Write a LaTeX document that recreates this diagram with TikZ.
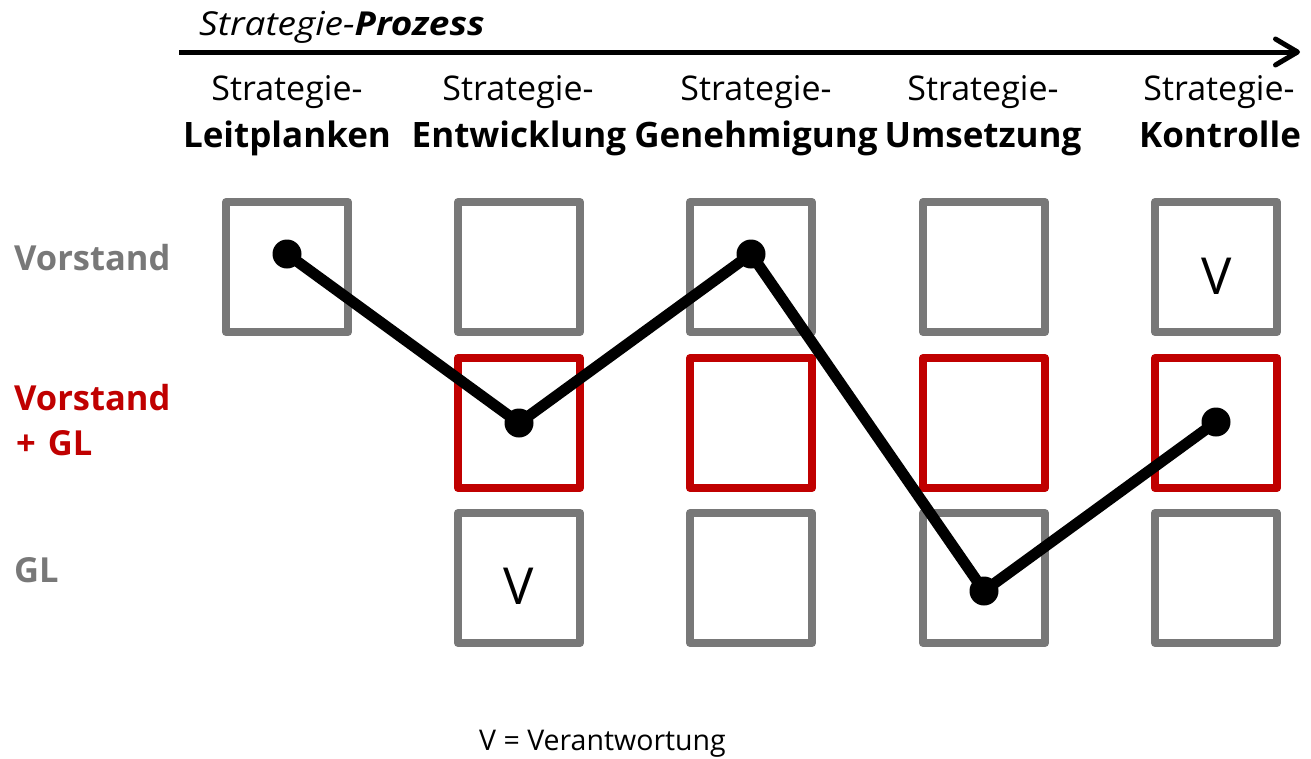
\documentclass[tikz,border=0pt]{standalone}
\usepackage{fontspec}
\setmainfont{Open Sans}
\usetikzlibrary{arrows.meta}
\definecolor{boxgray}{HTML}{787878}
\definecolor{boxred}{HTML}{C00000}
\tikzset{
  cell/.style={draw=boxgray, line width=8pt, line join=round, minimum width=122pt, minimum height=130pt, inner sep=0pt, outer sep=0pt},
  redcell/.style={cell, draw=boxred},
  dot/.style={circle, fill=black, minimum size=29pt, inner sep=0pt},
  route/.style={line width=11pt, line join=round, line cap=round},
  head/.style={font=\fontsize{34}{40}\selectfont, anchor=base, inner sep=0pt},
  headbold/.style={font=\fontsize{35}{42}\selectfont\bfseries, anchor=base, inner sep=0pt},
  rowlabel/.style={font=\fontsize{34.5}{40}\selectfont\bfseries, anchor=base west, inner sep=0pt},
  vmark/.style={font=\fontsize{51}{58}\selectfont, inner sep=0pt},
}
\begin{document}
\begin{tikzpicture}[x=1pt,y=-1pt]
\useasboundingbox (0,0) rectangle (1311,758);

% process arrow
\node[font=\fontsize{33}{40}\selectfont\itshape, anchor=base west, inner sep=0pt] (title) at (199,35) {\scalebox{1.12}[1]{Strategie-\textbf{Prozess}}};
\coordinate (pstart) at (179,52);
\coordinate (pend) at (1300,52);
\draw[line width=5pt, -{Straight Barb[length=22pt, width=26pt, round]}] (pstart) -- (pend);

% column headings
\node[head] (h1a) at (287,100) {Strategie-};
\node[headbold] (h1b) at (287,147) {Leitplanken};
\node[head] (h2a) at (518,100) {Strategie-};
\node[headbold] (h2b) at (519,147) {Entwicklung};
\node[head] (h3a) at (756,100) {Strategie-};
\node[headbold] (h3b) at (756,147) {Genehmigung};
\node[head] (h4a) at (983,100) {Strategie-};
\node[headbold] (h4b) at (983,147) {Umsetzung};
\node[head] (h5a) at (1219,100) {Strategie-};
\node[headbold] (h5b) at (1220,147) {Kontrolle};

% row labels
\node[rowlabel, text=boxgray] (r1) at (14,270) {Vorstand};
\node[rowlabel, text=boxred] (r2a) at (14,410) {Vorstand};
\node[rowlabel, text=boxred] (r2b) at (16,455) {+\hspace{0.35em}GL};
\node[rowlabel, text=boxgray] (r3) at (14,582) {GL};

% grid of cells
\node[cell] (b11) at (287,267) {};
\node[cell] (b12) at (519,267) {};
\node[cell] (b13) at (751,267) {};
\node[cell] (b14) at (984,267) {};
\node[cell] (b15) at (1216,267) {};
\node[redcell] (b22) at (519,423) {};
\node[redcell] (b23) at (751,423) {};
\node[redcell] (b24) at (984,423) {};
\node[redcell] (b25) at (1216,423) {};
\node[cell] (b32) at (519,578) {};
\node[cell] (b33) at (751,578) {};
\node[cell] (b34) at (984,578) {};
\node[cell] (b35) at (1216,578) {};

% responsibility marks
\node[vmark] (v1) at (1217,276) {V};
\node[vmark] (v2) at (519,586) {V};

% route through the process
\node[dot] (d1) at (287,254) {};
\node[dot] (d2) at (519,423) {};
\node[dot] (d3) at (751,254) {};
\node[dot] (d4) at (984,591) {};
\node[dot] (d5) at (1216,422) {};
\draw[route] (d1.center) -- (d2.center) -- (d3.center) -- (d4.center) -- (d5.center);

% legend
\node[font=\fontsize{28.5}{34}\selectfont, anchor=base west, inner sep=0pt] (legend) at (479,750) {V = Verantwortung};
\end{tikzpicture}
\end{document}
